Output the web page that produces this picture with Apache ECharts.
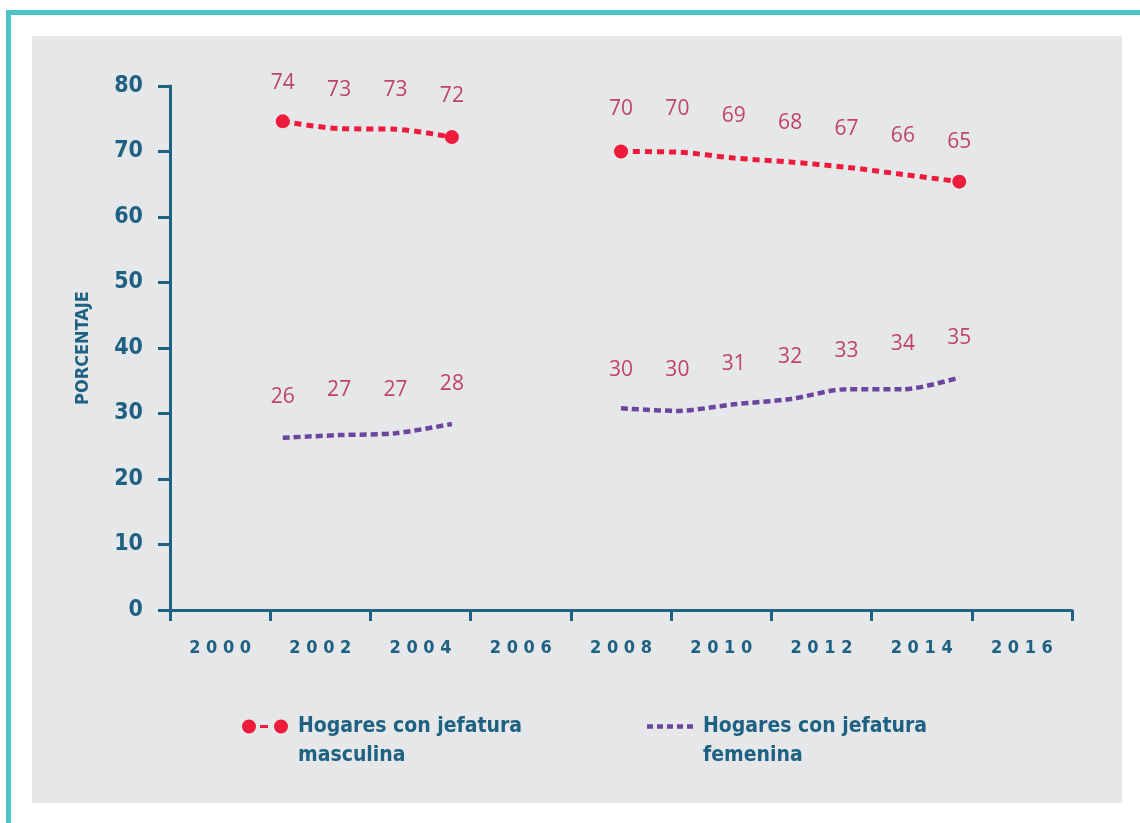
<!DOCTYPE html>
<html>
<head>
<meta charset="utf-8">
<style>
	html, body { margin: 0; padding: 0; background: #fff; }
	#wrap { position: relative; width: 1140px; height: 823px; background: #fff; overflow: hidden; }
	.bar { position: absolute; background: #4cc3c6; }
	#panel { position: absolute; left: 32px; top: 36px; width: 1090px; height: 767px; background: #e6e7e8; }
	#chart { position: absolute; left: 0; top: 0; width: 1140px; height: 823px; }
</style>
<script src="https://cdn.jsdelivr.net/npm/echarts@6/dist/echarts.min.js"></script>
</head>
<body>
<div id="wrap">
	<div class="bar" style="left:6px;top:10px;width:5px;height:813px"></div>
	<div class="bar" style="left:6px;top:10px;width:1134px;height:5px"></div>
	<div id="panel"></div>
	<div id="chart"></div>
</div>
<script>
/* ── Data ────────────────────────────────────────────────── */
// visible axis labels (every two years)
const yearLabels = ["2000", "2002", "2004", "2006", "2008", "2010", "2012", "2014", "2016"];
// one slot per year, used to place the points
const years = ["2000", "2001", "2002", "2003", "2004", "2005", "2006", "2007", "2008",
	"2009", "2010", "2011", "2012", "2013", "2014", "2015", "2016"];

const masculina = [null, null, 74.6, 73.5, 73.4, 72.2, null, null, 70.0, 69.9, 69.0, 68.4, 67.6, 66.5, 65.4, null, null];
const femenina  = [null, null, 26.3, 26.7, 27.0, 28.4, null, null, 30.8, 30.4, 31.4, 32.2, 33.7, 33.7, 35.5, null, null];

// printed values above each point
const masculinaLabels = [null, null, 74, 73, 73, 72, null, null, 70, 70, 69, 68, 67, 66, 65, null, null];
const femeninaLabels  = [null, null, 26, 27, 27, 28, null, null, 30, 30, 31, 32, 33, 34, 35, null, null];

const NAME_M = "Hogares con jefatura masculina";
const NAME_F = "Hogares con jefatura femenina";

/* ── Styles ──────────────────────────────────────────────── */
const BLUE = "#1f6183";
const RED = "#ee1b3c";
const PURPLE = "#6b469f";
const LABEL = "#c04468";
const FONT = "'DejaVu Sans Condensed', 'DejaVu Sans', sans-serif";
const NUM_FONT = "'Open Sans', 'Noto Sans', sans-serif";

// legend icons
const ICON_M = "path://M0,7a7,7 0 1,0 14,0a7,7 0 1,0 -14,0z M18,5.5h8v3h-8z M32,7a7,7 0 1,0 14,0a7,7 0 1,0 -14,0z";
const ICON_F = "path://M0,0h6v4.5h-6z M10,0h6v4.5h-6z M20,0h6v4.5h-6z M30,0h6v4.5h-6z M40,0h6v4.5h-6z";

const isEnd = (arr, i) => arr[i] != null && (arr[i - 1] == null || arr[i + 1] == null);

// empty first line keeps the first text line level with the icon
const legendFormatter = n => "\n" + n.replace("jefatura ", "jefatura\n");

const legendText = {
	color: BLUE,
	fontFamily: FONT,
	fontWeight: "bold",
	fontSize: 21,
	lineHeight: 29,
	padding: [0, 0, 0, 5],
};

const labelSeries = (values, dy) => ({
	type: "line",
	xAxisIndex: 1,
	data: values,
	symbol: "circle",
	symbolSize: 0,
	showAllSymbol: true,
	silent: true,
	lineStyle: { opacity: 0 },
	itemStyle: { color: "transparent" },
	label: {
		show: true,
		position: "inside",
		offset: [0, dy],
		opacity: 1,
		color: LABEL,
		fontFamily: NUM_FONT,
		fontSize: 21,
	},
	z: 5,
});

/* ── Chart ───────────────────────────────────────────────── */
const chart = echarts.init(document.getElementById("chart"), null, { renderer: "canvas" });

chart.setOption({
	animation: false,
	backgroundColor: "transparent",
	grid: { left: 170, right: 68, top: 86, bottom: 213 },
	xAxis: [
		{
			type: "category",
			data: yearLabels,
			boundaryGap: true,
			axisLine: { lineStyle: { color: BLUE, width: 3 } },
			axisTick: { show: true, length: 11, lineStyle: { color: BLUE, width: 3 } },
			axisLabel: {
				color: BLUE,
				fontFamily: FONT,
				fontWeight: "bold",
				fontSize: 18,
				margin: 29,
				formatter: v => v.split("").join(" "),
			},
			splitLine: { show: false },
		},
		{
			type: "category",
			data: years,
			boundaryGap: false,
			show: false,
		},
	],
	yAxis: {
		type: "value",
		min: 0,
		max: 80,
		interval: 10,
		name: "PORCENTAJE",
		nameLocation: "middle",
		nameGap: 78,
		nameTextStyle: { color: BLUE, fontFamily: FONT, fontWeight: "bold", fontSize: 18 },
		axisLine: { show: true, lineStyle: { color: BLUE, width: 3 } },
		axisTick: { show: true, length: 12, lineStyle: { color: BLUE, width: 3 } },
		axisLabel: { color: BLUE, fontFamily: FONT, fontWeight: "bold", fontSize: 23, margin: 27 },
		splitLine: { show: false },
	},
	legend: [
		{
			left: 242, top: 683, padding: 0,
			itemWidth: 46, itemHeight: 14,
			selectedMode: false,
			itemStyle: { borderWidth: 0 },
			data: [{ name: NAME_M, icon: ICON_M }],
			formatter: legendFormatter,
			textStyle: legendText,
		},
		{
			left: 647, top: 683, padding: 0,
			itemWidth: 46, itemHeight: 14,
			selectedMode: false,
			itemStyle: { borderWidth: 0 },
			data: [{ name: NAME_F, icon: ICON_F }],
			formatter: legendFormatter,
			textStyle: legendText,
		},
	],
	series: [
		{
			name: NAME_M,
			type: "line",
			xAxisIndex: 1,
			data: masculina,
			smooth: 0.3,
			symbol: (v, p) => (isEnd(masculina, p.dataIndex) ? "circle" : "none"),
			symbolSize: 14,
			showAllSymbol: true,
			itemStyle: { color: RED },
			lineStyle: { color: RED, width: 5, type: [7, 5] },
			z: 3,
		},
		{
			name: NAME_F,
			type: "line",
			xAxisIndex: 1,
			data: femenina,
			smooth: 0.3,
			symbol: "none",
			itemStyle: { color: PURPLE },
			lineStyle: { color: PURPLE, width: 4.5, type: [7, 4] },
			z: 3,
		},
		labelSeries(masculinaLabels, -42),
		labelSeries(femeninaLabels, -43),
	],
});
</script>
</body>
</html>
